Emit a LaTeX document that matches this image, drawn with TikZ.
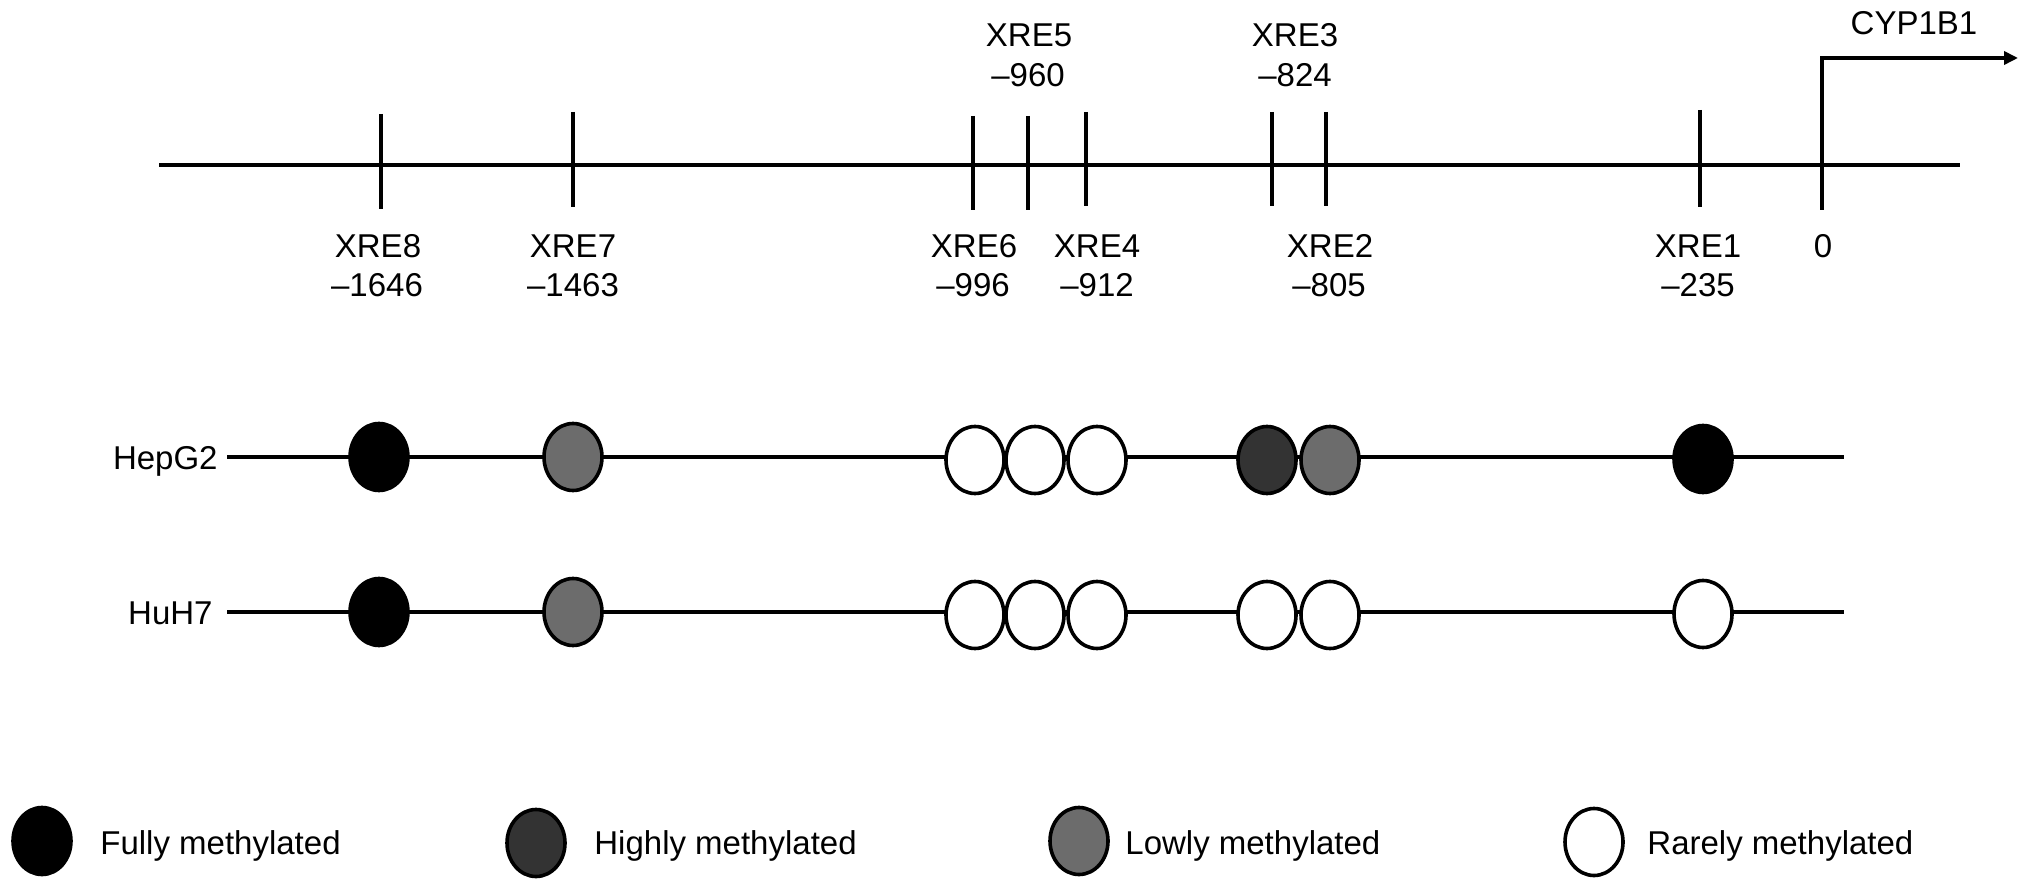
\documentclass[tikz,border=0pt]{standalone}
\usepackage{fontspec}
\setmainfont{Liberation Sans}
\usetikzlibrary{shapes.geometric,arrows.meta}
\definecolor{darkm}{RGB}{51,51,51}
\definecolor{lowm}{RGB}{108,108,108}
\tikzset{
  lbl/.style={inner sep=0pt, anchor=base, font=\fontsize{16.5}{20}\selectfont},
  lbw/.style={lbl, anchor=base west},
  lbe/.style={lbl, anchor=base east},
  ln/.style={line width=1.8pt},
  meth/.style={ellipse, draw=black, line width=1.8pt, inner sep=0pt,
    minimum width=29pt, minimum height=33.5pt},
  full/.style={meth, fill=black},
  high/.style={meth, fill=darkm},
  low/.style={meth, fill=lowm},
  rare/.style={meth, fill=white},
}
\begin{document}
\begin{tikzpicture}[x=0.5pt,y=-0.5pt]
\useasboundingbox (0,0) rectangle (2032,892);
% main promoter line
\coordinate (mL) at (159,165);
\coordinate (mR) at (1960,165);
\draw[ln] (mL) -- (mR);
% ticks
\foreach \n/\x/\t/\b in {8/381/114/209, 7/573/112/207, 6/973/116/210, 5/1028/116/210,
  4/1086/112/206, 3/1272/112/206, 2/1326/112/206, 1/1700/110/207} {
  \coordinate (t\n a) at (\x,\t);
  \coordinate (t\n b) at (\x,\b);
  \draw[ln] (t\n a) -- (t\n b);
}
% transcription start arrow
\coordinate (z0) at (1822,210);
\coordinate (zc) at (1822,58);
\coordinate (ze) at (2018,58);
\draw[ln, line join=miter, -{Triangle[length=7pt,width=6.5pt]}] (z0) -- (zc) -- (ze);
\node[lbl] (cyp) at (1914,35) {CYP1B1};
% labels below
\node[lbl] (x8) at (378,258) {XRE8};  \node[lbl] (p8) at (377,297) {–1646};
\node[lbl] (x7) at (573,258) {XRE7};  \node[lbl] (p7) at (573,297) {–1463};
\node[lbl] (x6) at (974,258) {XRE6};  \node[lbl] (p6) at (973,297) {–996};
\node[lbl] (x4) at (1097,258) {XRE4}; \node[lbl] (p4) at (1097,297) {–912};
\node[lbl] (x2) at (1330,258) {XRE2}; \node[lbl] (p2) at (1329,297) {–805};
\node[lbl] (x1) at (1698,258) {XRE1}; \node[lbl] (p1) at (1698,297) {–235};
\node[lbl] (x0) at (1823,258) {0};
% labels above
\node[lbl] (x5) at (1029,47) {XRE5}; \node[lbl] (p5) at (1028,87) {–960};
\node[lbl] (x3) at (1295,47) {XRE3}; \node[lbl] (p3) at (1295,87) {–824};
% HepG2 row
\node[lbe] (hepg2) at (218,469) {HepG2};
\coordinate (h0) at (227,457);
\coordinate (h1) at (1844,457);
\draw[ln] (h0) -- (h1);
\node[full] (h8) at (379,457) {};
\node[low]  (h7) at (573,457) {};
\node[rare] (h6) at (975,460) {};
\node[rare] (h5) at (1035,460) {};
\node[rare] (h4) at (1097,460) {};
\node[high] (h3) at (1267,460) {};
\node[low]  (h2) at (1330,460) {};
\node[full] (h1e) at (1703,459) {};
% HuH7 row
\node[lbe] (huh7) at (213,624) {HuH7};
\coordinate (u0) at (227,612);
\coordinate (u1) at (1844,612);
\draw[ln] (u0) -- (u1);
\node[full] (u8) at (379,612) {};
\node[low]  (u7) at (573,612) {};
\node[rare] (u6) at (975,615) {};
\node[rare] (u5) at (1035,615) {};
\node[rare] (u4) at (1097,615) {};
\node[rare] (u3) at (1267,615) {};
\node[rare] (u2) at (1330,615) {};
\node[rare] (u1e) at (1703,614) {};
% legend
\node[full] (gF) at (42,841) {};
\node[lbw] (tF) at (100,854) {Fully methylated};
\node[high] (gH) at (536,843) {};
\node[lbw] (tH) at (594,854) {Highly methylated};
\node[low] (gL) at (1079,841) {};
\node[lbw] (tL) at (1125,854) {Lowly methylated};
\node[rare] (gR) at (1594,842) {};
\node[lbw] (tR) at (1647,854) {Rarely methylated};
\end{tikzpicture}
\end{document}
